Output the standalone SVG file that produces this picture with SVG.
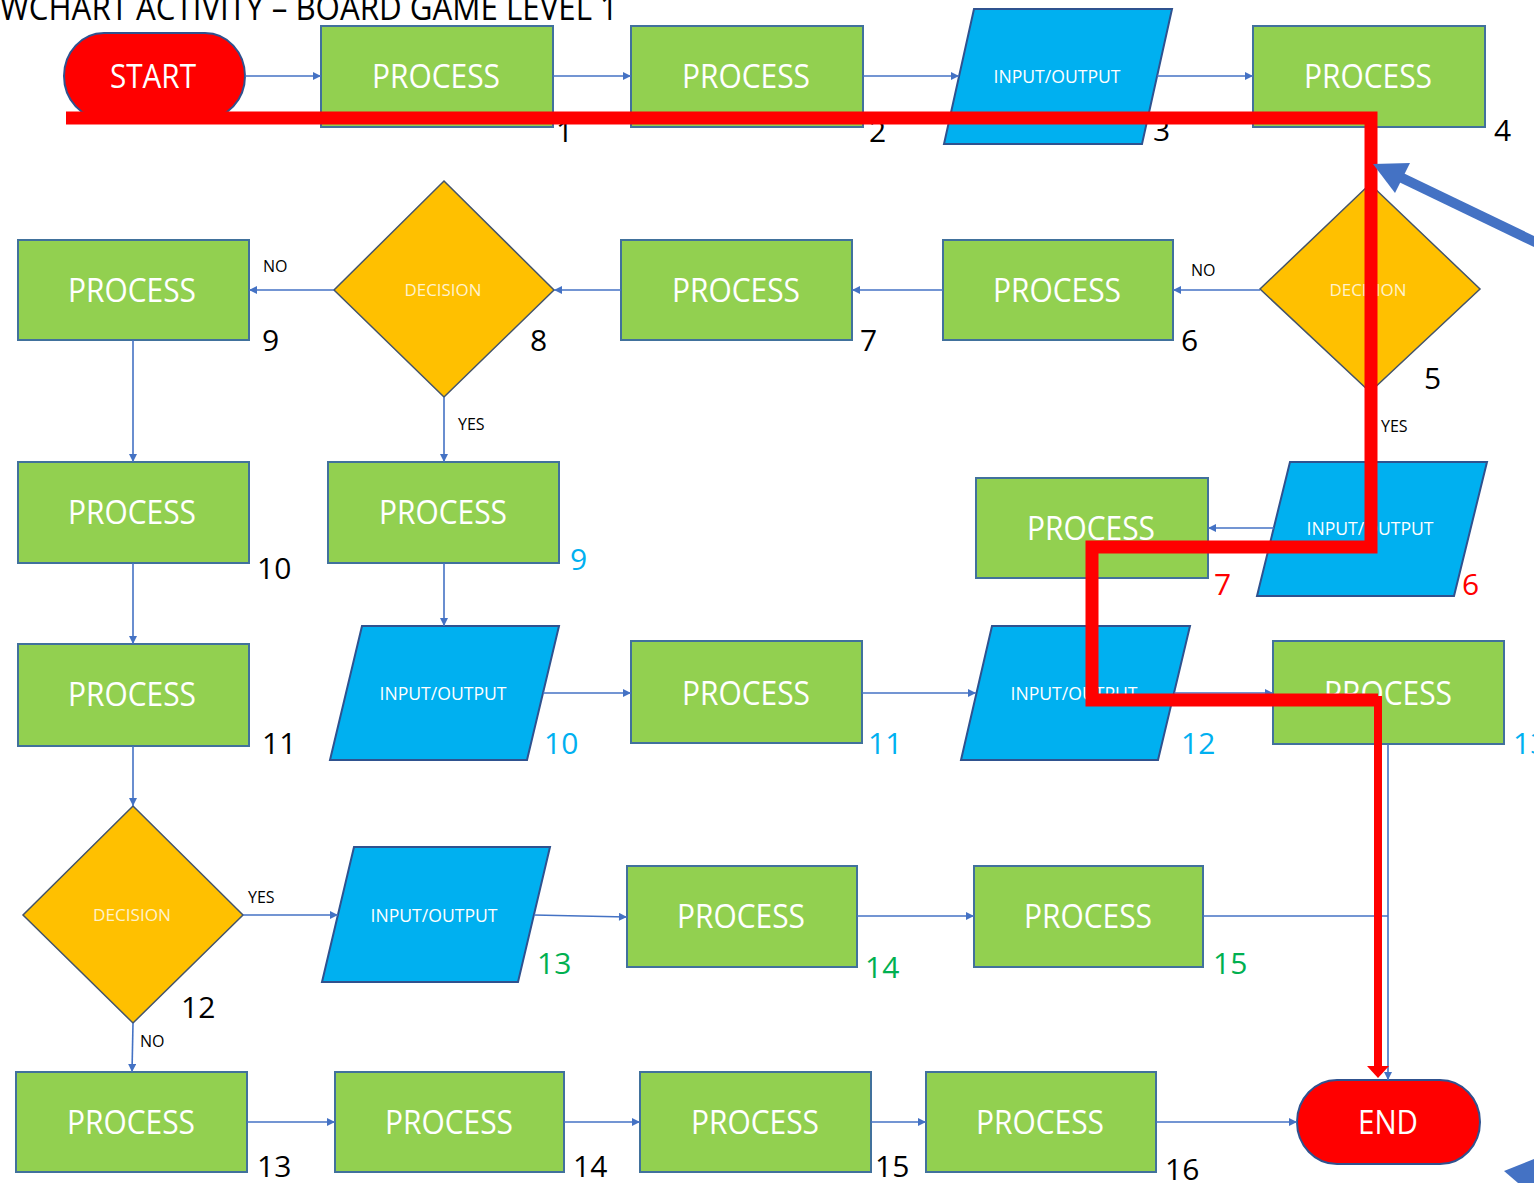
<svg xmlns="http://www.w3.org/2000/svg" width="1534" height="1183" viewBox="0 0 1534 1183">
  <defs>
    <marker id="arr" viewBox="0 0 10 10" refX="10" refY="5" markerWidth="9" markerHeight="8" markerUnits="userSpaceOnUse" orient="auto">
      <path d="M0,0 L10,5 L0,10 z" fill="#4472C4"/>
    </marker>
    <style>
      .proc { fill: #92D050; stroke: #41719C; stroke-width: 2; }
      .io { fill: #00B0F0; stroke: #2F528F; stroke-width: 2; }
      .dec { fill: #FFC000; stroke: #44546A; stroke-width: 1.5; }
      .term { fill: #FF0000; stroke: #2F528F; stroke-width: 2; }
      .big { font-family: "Open Sans", "Liberation Sans", sans-serif; font-size: 33px; fill: #FFFFFF; text-anchor: middle; }
      .small { font-family: "Open Sans", "Liberation Sans", sans-serif; font-size: 18px; fill: #FFFFFF; text-anchor: middle; }
      .dtext { font-family: "Open Sans", "Liberation Sans", sans-serif; font-size: 17px; fill: #FFF2CC; text-anchor: middle; }
      .num { font-family: "Open Sans", "Liberation Sans", sans-serif; font-size: 30px; fill: #000000; }
      .nb { fill: #00B0F0; }
      .nr { fill: #FF0000; }
      .ng { fill: #00B050; }
      .lbl { font-family: "Open Sans", "Liberation Sans", sans-serif; font-size: 16px; fill: #000000; }
      .conn { fill: none; stroke: #4472C4; stroke-width: 1.6; }
    </style>
  </defs>

  <rect width="1534" height="1183" fill="#FFFFFF"/>

  <!-- title -->
  <text x="0" y="20" font-family="Open Sans, Liberation Sans, sans-serif" font-size="34" fill="#000000" textLength="618" lengthAdjust="spacingAndGlyphs">WCHART ACTIVITY – BOARD GAME LEVEL 1</text>

  <!-- row 1 -->
  <g id="start">
    <rect class="term" x="64" y="33" width="181" height="86" rx="40" ry="43"/>
    <text class="big" x="153" y="88" textLength="86" lengthAdjust="spacingAndGlyphs">START</text>
  </g>
  <g id="p1">
    <rect class="proc" x="321" y="26" width="232" height="101"/>
    <text class="big" x="436" y="88" textLength="128" lengthAdjust="spacingAndGlyphs">PROCESS</text>
    <text class="num" x="556" y="142">1</text>
  </g>
  <g id="p2">
    <rect class="proc" x="631" y="26" width="232" height="101"/>
    <text class="big" x="746" y="88" textLength="128" lengthAdjust="spacingAndGlyphs">PROCESS</text>
    <text class="num" x="869" y="142">2</text>
  </g>
  <g id="io3">
    <polygon class="io" points="974,9 1172,9 1142,144 944,144"/>
    <text class="small" x="1057" y="83" textLength="127" lengthAdjust="spacingAndGlyphs">INPUT/OUTPUT</text>
    <text class="num" x="1153" y="141">3</text>
  </g>
  <g id="p4">
    <rect class="proc" x="1253" y="26" width="232" height="101"/>
    <text class="big" x="1368" y="88" textLength="128" lengthAdjust="spacingAndGlyphs">PROCESS</text>
    <text class="num" x="1494" y="141">4</text>
  </g>

  <!-- row 2 -->
  <g id="d5">
    <polygon class="dec" points="1370,184 1480,289 1370,392 1260,289"/>
    <text class="dtext" x="1368" y="296" textLength="77" lengthAdjust="spacingAndGlyphs">DECISION</text>
    <text class="num" x="1424" y="389">5</text>
  </g>
  <g id="p6">
    <rect class="proc" x="943" y="240" width="230" height="100"/>
    <text class="big" x="1057" y="302" textLength="128" lengthAdjust="spacingAndGlyphs">PROCESS</text>
    <text class="num" x="1181" y="351">6</text>
  </g>
  <g id="p7">
    <rect class="proc" x="621" y="240" width="231" height="100"/>
    <text class="big" x="736" y="302" textLength="128" lengthAdjust="spacingAndGlyphs">PROCESS</text>
    <text class="num" x="860" y="351">7</text>
  </g>
  <g id="d8">
    <polygon class="dec" points="444,181 554,290 444,397 334,290"/>
    <text class="dtext" x="443" y="296" textLength="77" lengthAdjust="spacingAndGlyphs">DECISION</text>
    <text class="num" x="530" y="351">8</text>
  </g>
  <g id="p9">
    <rect class="proc" x="18" y="240" width="231" height="100"/>
    <text class="big" x="132" y="302" textLength="128" lengthAdjust="spacingAndGlyphs">PROCESS</text>
    <text class="num" x="262" y="351">9</text>
  </g>

  <!-- row 3 -->
  <g id="p10">
    <rect class="proc" x="18" y="462" width="231" height="101"/>
    <text class="big" x="132" y="524" textLength="128" lengthAdjust="spacingAndGlyphs">PROCESS</text>
    <text class="num" x="257" y="579">10</text>
  </g>
  <g id="p9b">
    <rect class="proc" x="328" y="462" width="231" height="101"/>
    <text class="big" x="443" y="524" textLength="128" lengthAdjust="spacingAndGlyphs">PROCESS</text>
    <text class="num nb" x="570" y="570">9</text>
  </g>
  <g id="p7b">
    <rect class="proc" x="976" y="478" width="232" height="100"/>
    <text class="big" x="1091" y="540" textLength="128" lengthAdjust="spacingAndGlyphs">PROCESS</text>
    <text class="num nr" x="1214" y="595">7</text>
  </g>
  <g id="io6">
    <polygon class="io" points="1290,462 1487,462 1454,596 1257,596"/>
    <text class="small" x="1370" y="535" textLength="127" lengthAdjust="spacingAndGlyphs">INPUT/OUTPUT</text>
    <text class="num nr" x="1462" y="595">6</text>
  </g>

  <!-- row 4 -->
  <g id="p11">
    <rect class="proc" x="18" y="644" width="231" height="102"/>
    <text class="big" x="132" y="706" textLength="128" lengthAdjust="spacingAndGlyphs">PROCESS</text>
    <text class="num" x="262" y="754">11</text>
  </g>
  <g id="io10">
    <polygon class="io" points="362,626 559,626 527,760 330,760"/>
    <text class="small" x="443" y="700" textLength="127" lengthAdjust="spacingAndGlyphs">INPUT/OUTPUT</text>
    <text class="num nb" x="544" y="754">10</text>
  </g>
  <g id="p11b">
    <rect class="proc" x="631" y="641" width="231" height="102"/>
    <text class="big" x="746" y="705" textLength="128" lengthAdjust="spacingAndGlyphs">PROCESS</text>
    <text class="num nb" x="868" y="754">11</text>
  </g>
  <g id="io12">
    <polygon class="io" points="992,626 1190,626 1158,760 961,760"/>
    <text class="small" x="1074" y="700" textLength="127" lengthAdjust="spacingAndGlyphs">INPUT/OUTPUT</text>
    <text class="num nb" x="1181" y="754">12</text>
  </g>
  <g id="p13b">
    <rect class="proc" x="1273" y="641" width="231" height="103"/>
    <text class="big" x="1388" y="705" textLength="128" lengthAdjust="spacingAndGlyphs">PROCESS</text>
    <text class="num nb" x="1513" y="754">13</text>
  </g>

  <!-- row 5 -->
  <g id="d12">
    <polygon class="dec" points="133,806 243,915 133,1023 23,915"/>
    <text class="dtext" x="132" y="921" textLength="78" lengthAdjust="spacingAndGlyphs">DECISION</text>
    <text class="num" x="181" y="1018">12</text>
  </g>
  <g id="io13">
    <polygon class="io" points="354,847 550,847 518,982 322,982"/>
    <text class="small" x="434" y="922" textLength="127" lengthAdjust="spacingAndGlyphs">INPUT/OUTPUT</text>
    <text class="num ng" x="537" y="974">13</text>
  </g>
  <g id="p14">
    <rect class="proc" x="627" y="866" width="230" height="101"/>
    <text class="big" x="741" y="928" textLength="128" lengthAdjust="spacingAndGlyphs">PROCESS</text>
    <text class="num ng" x="865" y="978">14</text>
  </g>
  <g id="p15">
    <rect class="proc" x="974" y="866" width="229" height="101"/>
    <text class="big" x="1088" y="928" textLength="128" lengthAdjust="spacingAndGlyphs">PROCESS</text>
    <text class="num ng" x="1213" y="974">15</text>
  </g>

  <!-- row 6 -->
  <g id="p13">
    <rect class="proc" x="16" y="1072" width="231" height="100"/>
    <text class="big" x="131" y="1134" textLength="128" lengthAdjust="spacingAndGlyphs">PROCESS</text>
    <text class="num" x="257" y="1177">13</text>
  </g>
  <g id="p14b">
    <rect class="proc" x="335" y="1072" width="229" height="100"/>
    <text class="big" x="449" y="1134" textLength="128" lengthAdjust="spacingAndGlyphs">PROCESS</text>
    <text class="num" x="573" y="1177">14</text>
  </g>
  <g id="p15b">
    <rect class="proc" x="640" y="1072" width="231" height="100"/>
    <text class="big" x="755" y="1134" textLength="128" lengthAdjust="spacingAndGlyphs">PROCESS</text>
    <text class="num" x="875" y="1177">15</text>
  </g>
  <g id="p16">
    <rect class="proc" x="926" y="1072" width="230" height="100"/>
    <text class="big" x="1040" y="1134" textLength="128" lengthAdjust="spacingAndGlyphs">PROCESS</text>
    <text class="num" x="1165" y="1180">16</text>
  </g>
  <g id="end">
    <rect class="term" x="1297" y="1080" width="183" height="84" rx="40" ry="42"/>
    <text class="big" x="1388" y="1134" textLength="60" lengthAdjust="spacingAndGlyphs">END</text>
  </g>

  <!-- connectors -->
  <g id="connectors">
    <line class="conn" x1="245" y1="76" x2="321" y2="76" marker-end="url(#arr)"/>
    <line class="conn" x1="553" y1="76" x2="631" y2="76" marker-end="url(#arr)"/>
    <line class="conn" x1="863" y1="76" x2="959" y2="76" marker-end="url(#arr)"/>
    <line class="conn" x1="1157" y1="76" x2="1253" y2="76" marker-end="url(#arr)"/>

    <line class="conn" x1="1260" y1="290" x2="1173" y2="290" marker-end="url(#arr)"/>
    <line class="conn" x1="943" y1="290" x2="852" y2="290" marker-end="url(#arr)"/>
    <line class="conn" x1="621" y1="290" x2="554" y2="290" marker-end="url(#arr)"/>
    <line class="conn" x1="334" y1="290" x2="249" y2="290" marker-end="url(#arr)"/>

    <line class="conn" x1="444" y1="397" x2="444" y2="462" marker-end="url(#arr)"/>
    <line class="conn" x1="1370" y1="392" x2="1370" y2="462" marker-end="url(#arr)"/>
    <line class="conn" x1="1274" y1="528" x2="1208" y2="528" marker-end="url(#arr)"/>

    <line class="conn" x1="133" y1="340" x2="133" y2="462" marker-end="url(#arr)"/>
    <line class="conn" x1="133" y1="563" x2="133" y2="644" marker-end="url(#arr)"/>
    <line class="conn" x1="444" y1="563" x2="444" y2="626" marker-end="url(#arr)"/>
    <line class="conn" x1="543" y1="693" x2="631" y2="693" marker-end="url(#arr)"/>
    <line class="conn" x1="862" y1="693" x2="976" y2="693" marker-end="url(#arr)"/>
    <line class="conn" x1="1174" y1="693" x2="1273" y2="693" marker-end="url(#arr)"/>
    <line class="conn" x1="1388" y1="744" x2="1388" y2="1080" marker-end="url(#arr)"/>
    <line class="conn" x1="1203" y1="916" x2="1388" y2="916"/>

    <line class="conn" x1="133" y1="746" x2="133" y2="806" marker-end="url(#arr)"/>
    <line class="conn" x1="243" y1="915" x2="338" y2="915" marker-end="url(#arr)"/>
    <line class="conn" x1="534" y1="915" x2="627" y2="917" marker-end="url(#arr)"/>
    <line class="conn" x1="857" y1="916" x2="974" y2="916" marker-end="url(#arr)"/>
    <line class="conn" x1="133" y1="1023" x2="132" y2="1072" marker-end="url(#arr)"/>

    <line class="conn" x1="247" y1="1122" x2="335" y2="1122" marker-end="url(#arr)"/>
    <line class="conn" x1="564" y1="1122" x2="640" y2="1122" marker-end="url(#arr)"/>
    <line class="conn" x1="871" y1="1122" x2="926" y2="1122" marker-end="url(#arr)"/>
    <line class="conn" x1="1156" y1="1122" x2="1297" y2="1122" marker-end="url(#arr)"/>

    <!-- branch labels -->
    <text class="lbl" x="263" y="272">NO</text>
    <text class="lbl" x="1191" y="276">NO</text>
    <text class="lbl" x="458" y="430">YES</text>
    <text class="lbl" x="1381" y="432">YES</text>
    <text class="lbl" x="248" y="903">YES</text>
    <text class="lbl" x="140" y="1047">NO</text>
  </g>

  <!-- route drawn over the board -->
  <g id="route">
    <polyline points="66,118 1371,118 1371,547 1092,547 1092,700 1378,700" fill="none" stroke="#FF0000" stroke-width="13" stroke-linejoin="miter"/>
    <line x1="1378" y1="696" x2="1378" y2="1068" stroke="#FF0000" stroke-width="8"/>
    <polygon points="1367,1066 1389,1066 1378,1078" fill="#FF0000"/>
  </g>

  <!-- pointer arrows -->
  <g id="pointers">
    <line x1="1400" y1="177" x2="1560" y2="254" stroke="#4472C4" stroke-width="10"/>
    <polygon points="1373,164 1410,163 1395,193" fill="#4472C4"/>
    <polygon points="1504,1171 1534,1159 1534,1183 1518,1183" fill="#4472C4"/>
  </g>
</svg>
